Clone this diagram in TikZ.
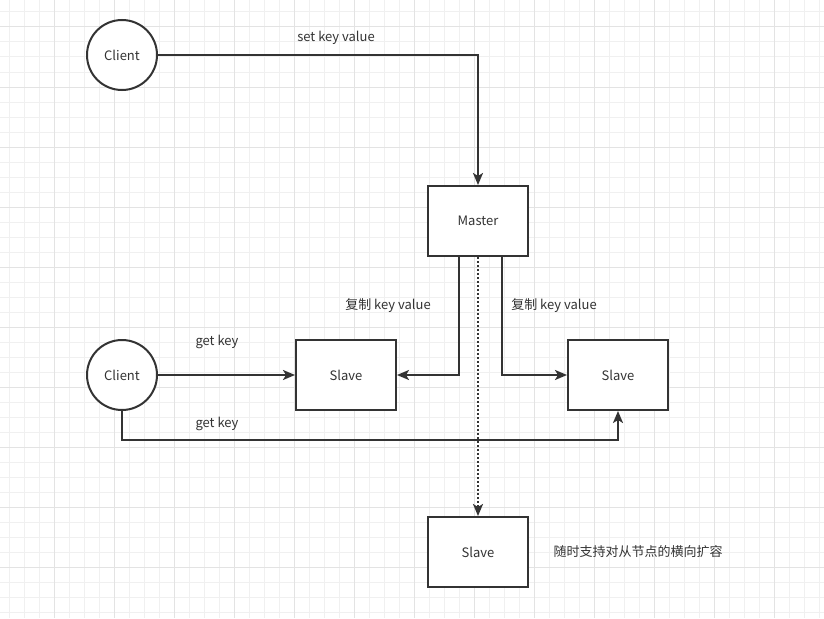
\documentclass[tikz,border=0pt]{standalone}
\usepackage{fontspec}
\setmainfont{Noto Sans CJK SC}
\usepackage{xcolor}
\usetikzlibrary{arrows.meta,positioning}
\definecolor{ink}{HTML}{333333}
\definecolor{gridlo}{HTML}{F0F0F0}
\definecolor{gridhi}{HTML}{E3E3E3}
\begin{document}
\begin{tikzpicture}[x=1pt,y=-1pt,font=\fontsize{13}{15}\selectfont,text=ink,
    box/.style={draw=ink,line width=2pt,fill=white,minimum width=100pt,minimum height=70pt},
    client/.style={draw=ink,line width=2pt,fill=white,circle,minimum size=70pt,inner sep=0pt},
    link/.style={draw=ink,line width=2pt,-{Stealth[length=12pt,width=10pt,inset=3pt]}},
    dotline/.style={dash pattern=on 2pt off 2pt}]
    \useasboundingbox[fill=white] (0,0) rectangle (824,618);
    % grid
    \foreach \x in {9,24,...,819} \draw[gridlo,line width=1pt] (\x,0) -- (\x,618);
    \foreach \y in {12,27,...,612} \draw[gridlo,line width=1pt] (0,\y) -- (824,\y);
    \foreach \x in {54,114,...,774} \draw[gridhi,line width=1pt] (\x,0) -- (\x,618);
    \foreach \y in {27,87,...,567} \draw[gridhi,line width=1pt] (0,\y) -- (824,\y);

    \node[client] (c1) at (122,55) {Client};
    \node[client] (c2) at (122,375) {Client};
    \node[box] (m) at (478,221) {Master};
    \node[box] (s1) at (346,375) {Slave};
    \node[box] (s2) at (618,375) {Slave};
    \node[box] (s3) at (478,552) {Slave};
    \coordinate (bend) at (122,440);

    \draw[link] (c1) -- (c1 -| m) -- (m);
    \draw[link] ([xshift=-19pt]m.south) |- (s1);
    \draw[link] ([xshift=24pt]m.south) |- (s2);
    \draw[link,dotline] (m) -- (s3);
    \draw[link] (c2) -- (s1);
    \draw[link] (c2) -- (bend) -| (s2);

    \node (setlbl) at (336,38) {set key value};
    \node (cpyl) at (388,306) {复制 key value};
    \node (cpyr) at (554,306) {复制 key value};
    \node (getup) at (217,342) {get key};
    \node (getlo) at (217,424) {get key};
    \node (note) at (638,552) {随时支持对从节点的横向扩容};
\end{tikzpicture}
\end{document}
